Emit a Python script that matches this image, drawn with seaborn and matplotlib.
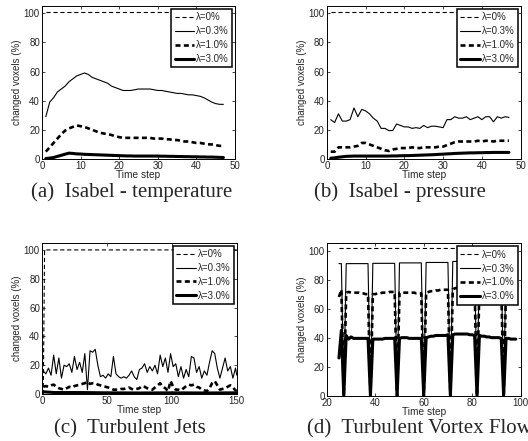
import numpy as np
import pandas as pd
import matplotlib
matplotlib.use("Agg")
import matplotlib.pyplot as plt
import seaborn as sns

# ---- data ----
labels = ["λ=0%", "λ=0.3%", "λ=1.0%", "λ=3.0%"]

# (a) Isabel - temperature
a_x0 = [1, 47]
a_y0 = [100.8, 100.8]
a_x = list(range(1, 48))
a_y03 = [29, 39, 42, 46, 48, 50, 53, 55, 57, 58, 59, 58, 56, 55, 54, 53,
         52, 50, 49, 48, 47, 47, 47, 47.5, 48, 48, 48, 48, 47.5, 47, 47,
         46.5, 46, 45.5, 45, 45, 44.5, 44, 44, 43.5, 43, 42, 40.5, 39, 38,
         37.5, 37.5]
a_y10 = [5, 8, 11, 14, 17, 19.5, 21, 22, 23, 22.5, 22, 21, 20, 19, 18,
         17.5, 17, 16.5, 15.5, 15, 14.5, 14.5, 14.5, 14.5, 14.5, 14.5, 14.5,
         14.5, 14, 14, 14, 13.5, 13.5, 13, 13, 12.5, 12, 12, 11.5, 11, 11,
         10.5, 10, 10, 9.5, 9, 9]
a_y30 = [0.3, 0.6, 1, 1.8, 2.5, 3.3, 4, 3.8, 3.5, 3.4, 3.2, 3.1, 3, 2.9,
         2.8, 2.7, 2.6, 2.5, 2.4, 2.3, 2.2, 2.1, 2.1, 2, 2, 2, 2, 2, 2, 2,
         1.9, 1.9, 1.8, 1.8, 1.7, 1.7, 1.6, 1.6, 1.5, 1.5, 1.4, 1.4, 1.3,
         1.3, 1.2, 1.1, 1]

# (b) Isabel - pressure
b_x0 = [1, 47]
b_y0 = [100.8, 100.8]
b_x = list(range(1, 48))
b_y03 = [27, 25, 31, 26, 26, 27, 35, 29, 34, 33, 31, 28, 26, 21, 21, 19.5,
         19.5, 24, 23, 22, 22, 21, 21.5, 21, 23, 21.5, 22.5, 22.5, 22, 21.5,
         27, 27, 29, 28, 28, 29, 27, 28, 29, 27, 29, 29, 25.5, 29, 28, 29,
         28.5]
b_y10 = [5, 5, 8, 8, 8, 8, 8.5, 9, 11, 11, 10, 9, 8, 7, 6, 5.5, 6.5, 7,
         7.5, 7.5, 7.5, 8, 7.5, 7.5, 8, 8, 8, 8, 8.5, 8.5, 9.5, 10.5, 11.5,
         12, 12, 12, 12, 12, 12.5, 12, 12.5, 12.5, 12, 12.5, 12.5, 12.5, 12.5]
b_y30 = [0.5, 0.8, 1.2, 1.5, 1.8, 1.9, 2, 2, 2, 2, 2, 2, 2, 2, 2, 2, 2.1,
         2.1, 2.2, 2.3, 2.3, 2.4, 2.5, 2.6, 2.7, 2.8, 2.9, 3, 3.2, 3.3, 3.5,
         3.6, 3.8, 3.9, 4, 4.1, 4.2, 4.2, 4.3, 4.3, 4.4, 4.4, 4.5, 4.5, 4.5,
         4.5, 4.5]

# (c) Turbulent Jets
c_x0 = [1, 2, 150]
c_y0 = [0, 100, 100]
c_x = list(range(1, 150, 2)) + [150]
c_y03 = [16, 14, 18, 13, 27, 14, 25, 11, 20, 19, 21, 15, 26, 17, 22, 15,
         28, 3, 30, 29, 31, 20, 12, 13, 11, 14, 12, 26, 14, 12, 11, 12, 11,
         13, 16, 12, 10, 17, 18, 21, 15, 19, 16, 20, 14, 27, 19, 25, 15, 28,
         19, 21, 12, 19, 11, 17, 12, 26, 25, 15, 19, 11, 16, 13, 22, 30, 28,
         18, 11, 18, 25, 16, 19, 11, 18, 13]
c_y10 = [5, 5.5, 5, 6, 6.5, 5, 4, 3.5, 3, 4, 5, 4.5, 5.5, 6, 6.5, 7, 7.5,
         8.5, 7, 7.5, 7.5, 6.5, 6, 5.5, 5, 4.5, 4, 3, 3, 3, 3.5, 3.5, 4, 4.5,
         3.5, 3, 3.5, 4, 5.5, 5, 4, 3.5, 3, 4.5, 6, 7.5, 5, 4, 2, 9, 5, 3, 3,
         2.5, 4, 5.5, 6.5, 6, 6.5, 5, 4.5, 3, 2.5, 2, 4, 7.5, 9, 6, 3, 3.5,
         4, 5, 6, 4.5, 2.5, 2]
c_x30 = [1, 10, 30, 50, 75, 100, 125, 150]
c_y30 = [1.5, 1, 1, 0.8, 0.7, 0.8, 0.7, 0.8]

# (d) Turbulent Vortex Flow
d_x0 = [25, 98]
d_y0 = [102, 102]
d_x = list(range(25, 99))
d_y03 = [91, 91, 0,
         91, 91, 91, 91, 91, 91, 91, 91, 91, 91, 0,
         91.2, 91.2, 91.2, 91.2, 91.2, 91.2, 91.2, 91.2, 91.2, 91.2, 0,
         91.5, 91.5, 91.5, 91.5, 91.5, 91.5, 91.5, 91.5, 91.5, 91.5, 0,
         91.8, 91.8, 91.8, 91.8, 91.8, 91.8, 91.8, 91.8, 91.8, 91.8, 0,
         92.5, 92.5, 92.5, 92.5, 92.5, 92.5, 92.5, 92.5, 92.5, 92.5, 0,
         93, 93, 93, 93, 93, 93, 93, 93, 93, 93, 0,
         93, 93, 93, 93, 93]
d_y10 = [68, 73, 0,
         71, 71.5, 71, 71, 71, 71, 70.5, 70.5, 70, 70, 0,
         70, 70, 70.5, 70.5, 71, 71, 71, 71.5, 71.5, 71.5, 0,
         71, 71, 71, 71, 71, 71, 71, 70.5, 70.5, 70.5, 0,
         71, 71.5, 72, 72, 72.5, 72.5, 73, 73, 73, 73, 0,
         73.5, 74, 74.5, 75, 75, 75, 75, 75, 75, 75, 0,
         76, 76, 76, 76, 76, 76, 76, 76, 76, 76, 0,
         76, 76, 76, 76, 76]
d_y30 = [26, 45, 0,
         41.5, 39, 40.5, 39.5, 39.5, 39.5, 39.5, 39.5, 39.5, 39.5, 0,
         39, 39, 39, 39, 39, 39.5, 39.5, 39.5, 39.5, 39.5, 0,
         39.5, 40, 40, 40, 39.5, 39.5, 39.5, 39.5, 39.5, 39.5, 0,
         40, 40.5, 41, 41, 41.5, 41.5, 41.5, 41.5, 41.5, 42, 0,
         42, 42.5, 42.5, 42.5, 42.5, 42.5, 42.5, 42, 42, 41.5, 0,
         41.5, 41, 41, 40.5, 40.5, 40, 40, 40, 40, 39.5, 0,
         39.5, 39.5, 39, 39, 39]

captions = ["(a)  Isabel - temperature", "(b)  Isabel - pressure",
            "(c)  Turbulent Jets", "(d)  Turbulent Vortex Flow"]

# ---- style ----
sns.set_style("ticks")
plt.rcParams["font.family"] = ["Liberation Sans", "DejaVu Sans"]
plt.rcParams["lines.scale_dashes"] = False
plt.rcParams["xtick.direction"] = "in"
plt.rcParams["ytick.direction"] = "in"
plt.rcParams["xtick.top"] = True
plt.rcParams["ytick.right"] = True

fig = plt.figure(figsize=(5.28, 4.41), dpi=100)

axes_pos = [
    [0.0795, 0.6395, 0.3655, 0.347],
    [0.619, 0.6395, 0.367, 0.347],
    [0.0795, 0.1066, 0.369, 0.343],
    [0.619, 0.1027, 0.367, 0.3456],
]

panels = [
    (a_x0, a_y0, a_x, a_y03, a_x, a_y10, a_x, a_y30, (0, 50), [0, 10, 20, 30, 40, 50]),
    (b_x0, b_y0, b_x, b_y03, b_x, b_y10, b_x, b_y30, (0, 50), [0, 10, 20, 30, 40, 50]),
    (c_x0, c_y0, c_x, c_y03, c_x, c_y10, c_x30, c_y30, (0, 150), [0, 50, 100, 150]),
    (d_x0, d_y0, d_x, d_y03, d_x, d_y10, d_x, d_y30, (20, 100), [20, 40, 60, 80, 100]),
]

styles = [
    dict(linewidth=0.8, linestyle=(0, (3, 2))),
    dict(linewidth=0.8, linestyle="-"),
    dict(linewidth=1.9, linestyle=(0, (3.6, 2.4))),
    dict(linewidth=2.2, linestyle="-"),
]

for pos, panel in zip(axes_pos, panels):
    ax = fig.add_axes(pos)
    xs = panel[0:8:2]
    ys = panel[1:8:2]
    for x, y, lab, st in zip(xs, ys, labels, styles):
        df = pd.DataFrame({"x": x, "y": y})
        sns.lineplot(data=df, x="x", y="y", ax=ax, color="k",
                     estimator=None, sort=False, label=lab, **st)

    ax.set_xlim(*panel[8])
    ax.set_xticks(panel[9])
    ax.set_ylim(0, 105)
    ax.set_yticks([0, 20, 40, 60, 80, 100])
    ax.tick_params(labelsize=7, length=2.5, width=0.6, pad=1.5)
    ax.set_xlabel("Time step", fontsize=7.3, labelpad=-0.5)
    ax.set_ylabel("changed voxels (%)", fontsize=7, labelpad=1.5)
    for s in ax.spines.values():
        s.set_linewidth(0.7)
        s.set_color("k")

    leg = ax.legend(loc="upper right", fontsize=7, handlelength=2.0,
                    handletextpad=0.2, labelspacing=0.4, borderpad=0.35,
                    borderaxespad=0.3, fancybox=False, framealpha=1,
                    edgecolor="k")
    leg.get_frame().set_linewidth(1.1)

cap_font = ["Liberation Serif", "DejaVu Serif"]
fig.text(0.249, 0.554, captions[0], ha="center", va="baseline",
         fontsize=15, family=cap_font)
fig.text(0.758, 0.554, captions[1], ha="center", va="baseline",
         fontsize=15, family=cap_font)
fig.text(0.246, 0.0174, captions[2], ha="center", va="baseline",
         fontsize=15, family=cap_font)
fig.text(0.581, 0.0174, captions[3], ha="left", va="baseline",
         fontsize=15, family=cap_font)

fig.savefig("out.png", dpi=100)
